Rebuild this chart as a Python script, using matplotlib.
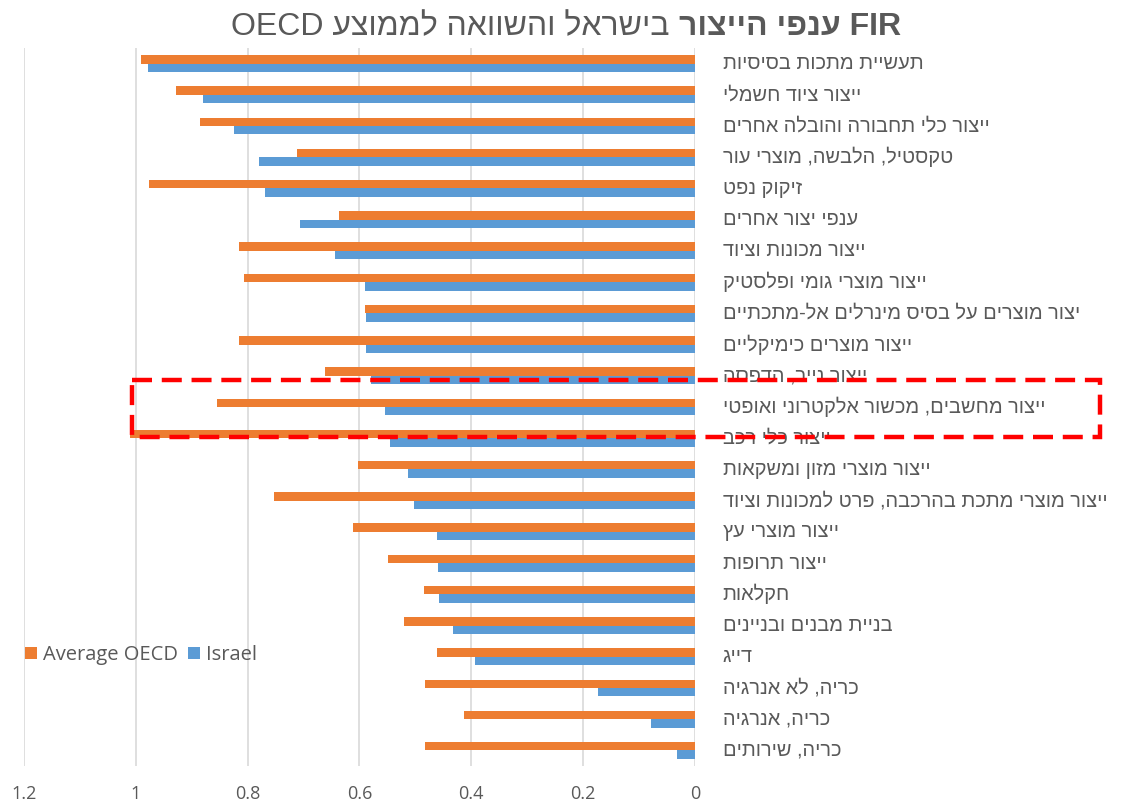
import numpy as np
import matplotlib
matplotlib.use("Agg")
from matplotlib import pyplot as plt
from matplotlib.patches import Rectangle
from matplotlib.transforms import blended_transform_factory

### data (top row first)
sectors = [
    "תעשיית מתכות בסיסיות",
    "ייצור ציוד חשמלי",
    "ייצור כלי תחבורה והובלה אחרים",
    "טקסטיל, הלבשה, מוצרי עור",
    "זיקוק נפט",
    "ענפי יצור אחרים",
    "ייצור מכונות וציוד",
    "ייצור מוצרי גומי ופלסטיק",
    "יצור מוצרים על בסיס מינרלים אל-מתכתיים",
    "ייצור מוצרים כימיקליים",
    "ייצור נייר, הדפסה",
    "ייצור מחשבים, מכשור אלקטרוני ואופטי",
    "ייצור כלי רכב",
    "ייצור מוצרי מזון ומשקאות",
    "ייצור מוצרי מתכת בהרכבה, פרט למכונות וציוד",
    "ייצור מוצרי עץ",
    "ייצור תרופות",
    "חקלאות",
    "בניית מבנים ובניינים",
    "דייג",
    "כריה, לא אנרגיה",
    "כריה, אנרגיה",
    "כריה, שירותים",
]
oecd = [0.990, 0.928, 0.885, 0.712, 0.976, 0.637, 0.816, 0.807, 0.590, 0.816,
        0.662, 0.854, 1.011, 0.602, 0.753, 0.611, 0.549, 0.485, 0.521, 0.461,
        0.482, 0.413, 0.482]
israel = [0.978, 0.880, 0.824, 0.780, 0.769, 0.707, 0.643, 0.590, 0.588, 0.588,
          0.579, 0.554, 0.545, 0.514, 0.503, 0.461, 0.459, 0.457, 0.432, 0.393,
          0.173, 0.078, 0.032]
x_ticks = [1.2, 1.0, 0.8, 0.6, 0.4, 0.2, 0]
x_tick_labels = ["1.2", "1", "0.8", "0.6", "0.4", "0.2", "0"]
highlight = "ייצור מחשבים, מכשור אלקטרוני ואופטי"

heb_font = ["Liberation Sans", "DejaVu Sans"]
grey = "#595959"
c_oecd = "#ED7D31"
c_isr = "#5B9BD5"


def rtl(s):
    # matplotlib has no bidi support, hebrew has to be flipped by hand
    return s[::-1]


fig = plt.figure(figsize=(11.47, 8.08), dpi=100)
ax = fig.add_axes([24 / 1147, 1 - 766 / 808, (695 - 24) / 1147, (766 - 48) / 808])

y = np.arange(len(sectors))
h = 0.27
ax.barh(y - h / 2, oecd, height=h, color=c_oecd, label="Average OECD", zorder=3)
ax.barh(y + h / 2, israel, height=h, color=c_isr, label="Israel", zorder=3)

ax.set_xlim(1.2, 0)
ax.set_ylim(len(sectors) - 0.5, -0.5)
ax.set_xticks(x_ticks)
ax.set_xticklabels(x_tick_labels, fontsize=13, color=grey, family="Open Sans")
ax.set_yticks([])
ax.tick_params(axis="x", length=0, pad=14)
ax.grid(axis="x", color="#d9d9d9", linewidth=1.2, zorder=0)
for s in ax.spines.values():
    s.set_visible(False)

# category names to the right of the zero line
for i, name in enumerate(sectors):
    ax.annotate(rtl(name), xy=(0, i), xytext=(20, 0), textcoords="offset points",
                ha="left", va="center", fontsize=14.4, color=grey, family=heb_font,
                annotation_clip=False)

# red dashed box round the computers row
k = sectors.index(highlight)
tr = blended_transform_factory(fig.transFigure, ax.transData)
box = Rectangle((132 / 1147, k - 0.87), (1100 - 132) / 1147, 1.84, transform=tr,
                fill=False, edgecolor="#ff0000", linewidth=3.2, linestyle=(0, (4.5, 2.2)),
                clip_on=False, zorder=10)
fig.add_artist(box)

# legend
fig.legend(loc="center left", bbox_to_anchor=(0.006, 1 - 655 / 808), ncol=2,
           frameon=False, handlelength=0.6, handleheight=0.6, handletextpad=0.3,
           columnspacing=0.5, prop={"family": "Open Sans", "size": 14.5}, labelcolor=grey)

# title: normal part then bold part, centered together
t_norm = fig.text(0, 0.966, "OECD " + rtl("לממוצע") + " " + rtl("והשוואה") + " " + rtl("בישראל") + " ",
                  fontsize=23, color=grey, family=heb_font, va="center", ha="left")
t_bold = fig.text(0, 0.966, rtl("הייצור") + " " + rtl("ענפי") + " FIR",
                  fontsize=23, color=grey, family=heb_font, weight="bold", va="center", ha="left")
r = fig.canvas.get_renderer()
w1 = t_norm.get_window_extent(r).width / fig.bbox.width
w2 = t_bold.get_window_extent(r).width / fig.bbox.width
x0 = 566 / 1147 - (w1 + w2) / 2
t_norm.set_x(x0)
t_bold.set_x(x0 + w1)

fig.savefig("out.png", dpi=100)
